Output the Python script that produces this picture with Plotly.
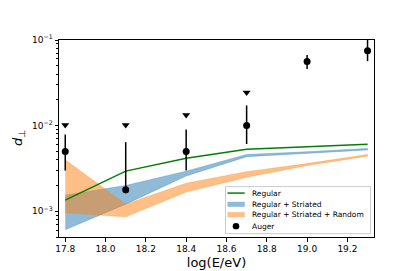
import numpy as np
import plotly.graph_objects as go

# ---- data ----
energy = [17.8, 18.1, 18.4, 18.7, 19.0, 19.3]

regular = [1.35e-3, 2.94e-3, 4.15e-3, 5.3e-3, 5.65e-3, 6.05e-3]

striated_hi = [1.54e-3, 2.0e-3, 2.94e-3, 4.6e-3, 4.95e-3, 5.42e-3]
striated_lo = [6.07e-4, 1.21e-3, 2.58e-3, 4.33e-3, 4.72e-3, 5.2e-3]

random_hi = [3.98e-3, 1.21e-3, 2.12e-3, 2.9e-3, 3.6e-3, 4.6e-3]
random_lo = [9.6e-4, 8.6e-4, 1.68e-3, 2.5e-3, 3.42e-3, 4.4e-3]

auger_x = [17.8, 18.1, 18.4, 18.7, 19.0, 19.3]
auger_y = [5.0e-3, 1.78e-3, 5.0e-3, 1.0e-2, 5.6e-2, 7.5e-2]
auger_hi = [7.9e-3, 6.4e-3, 9.0e-3, 1.72e-2, 6.7e-2, 1.0e-1]
auger_lo = [3.0e-3, 1.62e-3, 3.0e-3, 6.1e-3, 4.57e-2, 5.66e-2]

limit_x = [17.8, 18.1, 18.4, 18.7]
limit_y = [1.02e-2, 1.02e-2, 1.33e-2, 2.43e-2]

x_ticks = [17.8, 18.0, 18.2, 18.4, 18.6, 18.8, 19.0, 19.2]
x_ticktext = ["17.8", "18.0", "18.2", "18.4", "18.6", "18.8", "19.0", "19.2"]
y_ticks = [1e-3, 1e-2, 1e-1]
y_ticktext = ["10<sup>\u22123</sup>", "10<sup>\u22122</sup>", "10<sup>\u22121</sup>"]

legend_labels = ["Regular", "Regular + Striated", "Regular + Striated + Random", "Auger"]

FONT = "DejaVu Sans"
GREEN = "#008000"
BLUE = "rgba(31,119,180,0.5)"
ORANGE = "rgba(255,127,14,0.5)"

W, H = 407, 271
ML, MR, MT, MB = 51, 41, 32, 34
PW, PH = W - ML - MR, H - MT - MB


def px(xp):
    return (xp - ML) / PW


def py(yp):
    return (H - MB - yp) / PH


fig = go.Figure()

# bands
fig.add_trace(go.Scatter(
    x=energy + energy[::-1], y=striated_hi + striated_lo[::-1],
    fill="toself", fillcolor=BLUE, mode="lines",
    line=dict(color=BLUE, width=0.6),
    name=legend_labels[1], showlegend=False, hoverinfo="skip"))
fig.add_trace(go.Scatter(
    x=energy + energy[::-1], y=random_hi + random_lo[::-1],
    fill="toself", fillcolor=ORANGE, mode="lines",
    line=dict(color=ORANGE, width=0.6),
    name=legend_labels[2], showlegend=False, hoverinfo="skip"))

# regular line
fig.add_trace(go.Scatter(
    x=energy, y=regular, mode="lines",
    line=dict(color=GREEN, width=1.5),
    name=legend_labels[0], showlegend=False))

# upper limits
fig.add_trace(go.Scatter(
    x=limit_x, y=limit_y, mode="markers",
    marker=dict(symbol="triangle-down", size=7, color="black"),
    showlegend=False))

# Auger points
err_up = [h - y for h, y in zip(auger_hi, auger_y)]
err_dn = [y - l for y, l in zip(auger_y, auger_lo)]
fig.add_trace(go.Scatter(
    x=auger_x, y=auger_y, mode="markers",
    marker=dict(symbol="circle", size=7, color="black"),
    error_y=dict(type="data", symmetric=False, array=err_up, arrayminus=err_dn,
                 color="black", thickness=1.5, width=0),
    name=legend_labels[3], showlegend=False))

# ---- compact legend drawn with shapes + annotations ----
shapes = []
annotations = []
box = dict(x0=217.5, x1=362.5, y0=184.5, y1=233.5)
shapes.append(dict(type="rect", xref="paper", yref="paper",
                   x0=px(box["x0"]), x1=px(box["x1"]), y0=py(box["y1"]), y1=py(box["y0"]),
                   line=dict(color="#cccccc", width=1), fillcolor="rgba(255,255,255,0.8)", layer="above"))
row_y = [191.3, 203.0, 213.7, 225.7]
ix0, ix1 = 219.5, 236.7
shapes.append(dict(type="line", xref="paper", yref="paper",
                   x0=px(ix0), x1=px(ix1), y0=py(row_y[0]), y1=py(row_y[0]),
                   line=dict(color=GREEN, width=1.5), layer="above"))
for ry, col in [(row_y[1], BLUE), (row_y[2], ORANGE)]:
    shapes.append(dict(type="rect", xref="paper", yref="paper",
                       x0=px(ix0), x1=px(ix1), y0=py(ry + 2.6), y1=py(ry - 2.6),
                       line=dict(width=0), fillcolor=col, layer="above"))
cx, cy, r = 228.0, row_y[3], 3.3
shapes.append(dict(type="circle", xref="paper", yref="paper",
                   x0=px(cx - r), x1=px(cx + r), y0=py(cy + r), y1=py(cy - r),
                   line=dict(width=0), fillcolor="black", layer="above"))
for ry, lab in zip(row_y, legend_labels):
    annotations.append(dict(xref="paper", yref="paper", x=px(241.5), y=py(ry),
                            xanchor="left", yanchor="middle", showarrow=False, text=lab,
                            font=dict(family=FONT, size=7.5, color="black")))

# y-axis title as a rotated annotation
annotations.append(dict(xref="paper", yref="paper", x=px(10), y=py(134),
                        xanchor="center", yanchor="middle", showarrow=False, textangle=-90,
                        text="<i>d</i><sub>\u22a5</sub>",
                        font=dict(family=FONT, size=13, color="black")))

# minor ticks for log axis
minor_vals = [m * 10.0 ** k for k in range(-4, -1) for m in range(2, 10)]

fig.update_layout(
    width=W, height=H,
    margin=dict(l=ML, r=MR, t=MT, b=MB),
    paper_bgcolor="white", plot_bgcolor="white",
    font=dict(family=FONT, size=9, color="black"),
    showlegend=False,
    shapes=shapes, annotations=annotations,
    xaxis=dict(
        range=[17.769, 19.332], tickmode="array", tickvals=x_ticks, ticktext=x_ticktext,
        showline=True, linecolor="black", linewidth=1, mirror=True,
        ticks="outside", ticklen=3.5, tickwidth=1, tickcolor="black",
        showgrid=False, zeroline=False,
        tickfont=dict(family=FONT, size=9, color="black"),
        title=dict(text="log(E/eV)", font=dict(family=FONT, size=13, color="black"), standoff=4),
    ),
    yaxis=dict(
        type="log", range=[np.log10(5e-4), -1],
        tickmode="array", tickvals=y_ticks, ticktext=y_ticktext,
        showline=True, linecolor="black", linewidth=1, mirror=True,
        ticks="outside", ticklen=3.5, tickwidth=1, tickcolor="black",
        showgrid=False, zeroline=False,
        tickfont=dict(family=FONT, size=9, color="black"),
        minor=dict(tickmode="array", tickvals=minor_vals, ticks="outside",
                   ticklen=2, tickwidth=0.6, tickcolor="black", showgrid=False),
    ),
)

fig.write_html("out.html")
